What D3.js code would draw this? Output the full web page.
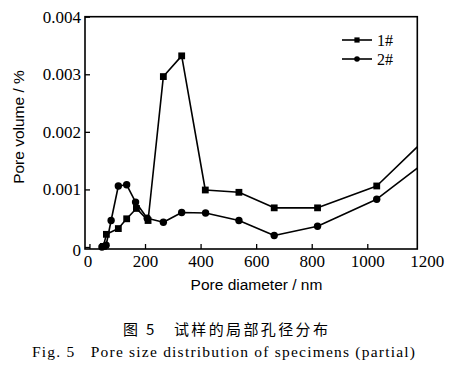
<!DOCTYPE html>
<html>
<head>
<meta charset="utf-8">
<script src="https://cdn.jsdelivr.net/npm/d3@7"></script>
<style>
html,body{margin:0;padding:0;background:#fff;}
svg{display:block;}
</style>
</head>
<body>
<svg id="chart" width="467" height="366"></svg>
<script>
// ---- data ----
const seriesNames = ["1#", "2#"];
const diam1 = [50, 61, 104, 134, 169, 211, 266, 332, 417, 538, 665, 821, 1034];
const vol1  = [0.00001, 0.00022, 0.00032, 0.00049, 0.00067, 0.00046, 0.00296, 0.00332, 0.00099, 0.00095, 0.00068, 0.00068, 0.00106];
const end1  = [1180, 0.00174];   // line continues to the frame edge (no marker)
const diam2 = [45, 60, 78, 104, 134, 166, 208, 266, 332, 418, 538, 665, 821, 1034];
const vol2  = [0.00000, 0.00003, 0.00046, 0.00106, 0.00108, 0.00078, 0.00050, 0.00043, 0.00060, 0.00059, 0.00046, 0.00020, 0.00036, 0.00083];
const end2  = [1180, 0.00137];
const xTicks = [0, 200, 400, 600, 800, 1000, 1200];
const yTicks = [0, 0.001, 0.002, 0.003, 0.004];
const yTickLabels = ["0", "0.001", "0.002", "0.003", "0.004"];
const xTitle = "Pore diameter / nm";
const yTitle = "Pore volume / %";
const captionCn = "图 5   试样的局部孔径分布";
const captionEn = "Fig. 5   Pore size distribution of specimens (partial)";

// ---- layout ----
const L = 85, R = 417.3, T = 16.7, B = 249;
const svg = d3.select("#chart");
const x = d3.scaleLinear().domain([-16, 1180]).range([L, R]);
const y = d3.scaleLinear().domain([-0.0000347, 0.004]).range([B, T]);

const serif = "'Liberation Serif','DejaVu Serif',serif";
const sans = "'Liberation Sans',Arial,sans-serif";

// axes
const gx = svg.append("g").attr("transform", `translate(0,${B})`)
  .call(d3.axisBottom(x).tickValues(xTicks).tickSizeInner(-5).tickSizeOuter(0).tickPadding(6).tickFormat(d3.format("d")));
gx.select(".domain").remove();
gx.selectAll(".tick line").attr("stroke", "#000").attr("stroke-width", 1.3)
  .filter(d => d > 1180).remove();
gx.selectAll(".tick text").attr("font-family", serif).attr("font-size", 17).attr("fill", "#000")
  .attr("dx", d => d === 1200 ? 4 : (d === 0 ? -2 : 0));

const gy = svg.append("g").attr("transform", `translate(${L},0)`)
  .call(d3.axisLeft(y).tickValues(yTicks).tickSizeInner(-5).tickSizeOuter(0).tickPadding(4)
    .tickFormat((d, i) => yTickLabels[i]));
gy.select(".domain").remove();
gy.selectAll(".tick line").attr("stroke", "#000").attr("stroke-width", 1.3);
gy.selectAll(".tick text").attr("font-family", serif).attr("font-size", 17).attr("fill", "#000")
  .attr("dy", d => d === 0 ? "0.5em" : "0.32em");

// frame
svg.append("rect").attr("x", L).attr("y", T).attr("width", R - L).attr("height", B - T)
  .attr("fill", "none").attr("stroke", "#000").attr("stroke-width", 1.6);

// series
const line = d3.line().x(d => x(d[0])).y(d => y(d[1]));
const pts1 = diam1.map((d, i) => [d, vol1[i]]);
const pts2 = diam2.map((d, i) => [d, vol2[i]]);

[[pts1, end1], [pts2, end2]].forEach(([pts, end]) => {
  svg.append("path").datum(pts.concat([end])).attr("d", line)
    .attr("fill", "none").attr("stroke", "#000").attr("stroke-width", 1.6).attr("stroke-linejoin", "round");
});
svg.append("g").selectAll("rect").data(pts1).join("rect")
  .attr("x", d => x(d[0]) - 3.4).attr("y", d => y(d[1]) - 3.4)
  .attr("width", 6.8).attr("height", 6.8).attr("fill", "#000");
svg.append("g").selectAll("circle").data(pts2).join("circle")
  .attr("cx", d => x(d[0])).attr("cy", d => y(d[1])).attr("r", 3.7).attr("fill", "#000");

// legend
const lg = svg.append("g");
[40, 59].forEach((ly, i) => {
  lg.append("line").attr("x1", 342).attr("x2", 372).attr("y1", ly).attr("y2", ly)
    .attr("stroke", "#000").attr("stroke-width", 1.6);
  if (i === 0) lg.append("rect").attr("x", 357 - 2.6).attr("y", ly - 2.6).attr("width", 5.2).attr("height", 5.2).attr("fill", "#000");
  else lg.append("circle").attr("cx", 357).attr("cy", ly).attr("r", 2.8).attr("fill", "#000");
  lg.append("text").attr("x", 377).attr("y", ly + 5.5).text(seriesNames[i])
    .attr("font-family", serif).attr("font-size", 16).attr("fill", "#000");
});

// axis titles
svg.append("text").attr("x", 256.5).attr("y", 290).attr("text-anchor", "middle")
  .attr("font-family", sans).attr("font-size", 15.5).attr("fill", "#000").text(xTitle);
svg.append("text").attr("transform", "translate(24,127) rotate(-90)").attr("text-anchor", "middle")
  .attr("font-family", sans).attr("font-size", 15.5).attr("fill", "#000").text(yTitle);

// captions
svg.append("text").attr("x", 225.5).attr("y", 335).attr("text-anchor", "middle")
  .attr("font-family", "'Noto Sans CJK SC',sans-serif").attr("font-size", 15).attr("fill", "#000")
  .attr("textLength", 205).attr("lengthAdjust", "spacing")
  .attr("xml:space", "preserve").style("white-space", "pre").text(captionCn);
svg.append("text").attr("x", 223.5).attr("y", 357).attr("text-anchor", "middle")
  .attr("font-family", serif).attr("font-size", 15.5).attr("fill", "#000")
  .attr("textLength", 383).attr("lengthAdjust", "spacing")
  .style("white-space", "pre").text(captionEn);
</script>
</body>
</html>
